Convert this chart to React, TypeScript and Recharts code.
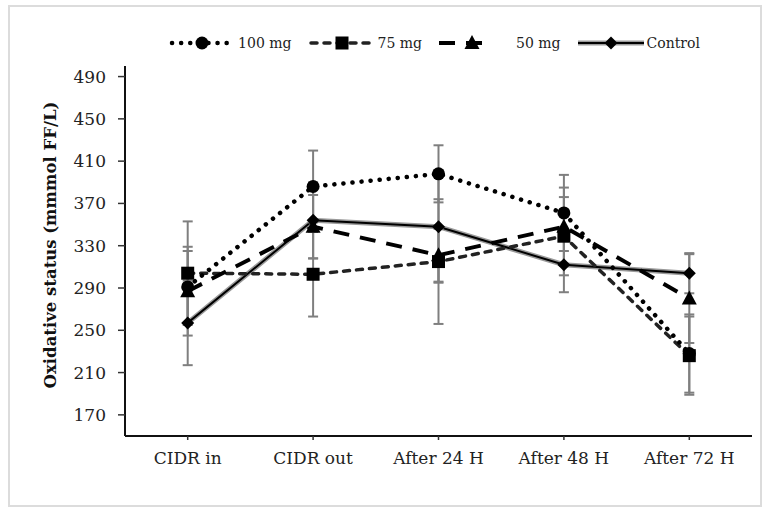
import React from 'react';
import { ComposedChart, Line, XAxis, YAxis, ErrorBar, Legend } from 'recharts';

const categories = ['CIDR in', 'CIDR out', 'After 24 H', 'After 48 H', 'After 72 H'];
const mg100 = [291, 386, 398, 361, 228];
const mg100Err = [34, 34, 27, 36, 37];
const mg75 = [304, 303, 315, 339, 226];
const mg75Err = [49, 40, 59, 37, 37];
const mg50 = [287, 348, 321, 348, 280];
const mg50Err = [42, 30, 25, 37, 42];
const control = [257, 354, 348, 312, 304];
const controlErr = [40, 36, 53, 26, 19];
const yTicks = [170, 210, 250, 290, 330, 370, 410, 450, 490];
const seriesNames = ['100 mg', '75 mg', '50 mg', 'Control'];

const data = categories.map((c, i) => ({
  name: c,
  mg100: mg100[i],
  mg100Err: mg100Err[i],
  mg75: mg75[i],
  mg75Err: mg75Err[i],
  mg50: mg50[i],
  mg50Err: mg50Err[i],
  control: control[i],
  controlErr: controlErr[i],
}));

const FONT = '"DejaVu Serif", serif';
const ERR = '#7f7f7f';

const CircleDot = (p: any) =>
  p.cx == null ? <g key={'c' + p.index} /> : <circle key={'c' + p.index} cx={p.cx} cy={p.cy} r={6.5} fill="#000" />;
const SquareDot = (p: any) =>
  p.cx == null ? <g key={'s' + p.index} /> : <rect key={'s' + p.index} x={p.cx - 6.5} y={p.cy - 6.5} width={13} height={13} fill="#000" />;
const TriangleDot = (p: any) =>
  p.cx == null ? <g key={'t' + p.index} /> : (
    <polygon key={'t' + p.index} points={`${p.cx},${p.cy - 8} ${p.cx + 7.5},${p.cy + 6} ${p.cx - 7.5},${p.cy + 6}`} fill="#000" />
  );
const DiamondDot = (p: any) =>
  p.cx == null ? <g key={'d' + p.index} /> : (
    <polygon key={'d' + p.index} points={`${p.cx},${p.cy - 6.5} ${p.cx + 6.5},${p.cy} ${p.cx},${p.cy + 6.5} ${p.cx - 6.5},${p.cy}`} fill="#000" />
  );

const icons = [
  (
    <svg width={66} height={20} key="i0">
      <line x1={3} y1={10} x2={64} y2={10} stroke="#000" strokeWidth={4.5} strokeDasharray="0.1 9" strokeLinecap="round" />
      <circle cx={33} cy={10} r={6.5} fill="#000" />
    </svg>
  ),
  (
    <svg width={66} height={20} key="i1">
      <line x1={2} y1={10} x2={64} y2={10} stroke="#222" strokeWidth={3.5} strokeDasharray="6 7" strokeLinecap="round" />
      <rect x={26.5} y={3.5} width={13} height={13} fill="#000" />
    </svg>
  ),
  (
    <svg width={74} height={20} key="i2">
      <line x1={0} y1={10} x2={52} y2={10} stroke="#000" strokeWidth={4} strokeDasharray="16 11" />
      <polygon points="33,2 40.5,16 25.5,16" fill="#000" />
    </svg>
  ),
  (
    <svg width={66} height={20} key="i3">
      <line x1={0} y1={10} x2={66} y2={10} stroke="#9a9a9a" strokeWidth={5} />
      <line x1={0} y1={10} x2={66} y2={10} stroke="#000" strokeWidth={2} />
      <polygon points="33,3.5 39.5,10 33,16.5 26.5,10" fill="#000" />
    </svg>
  ),
];

const LegendContent = () => (
  <div
    style={{
      display: 'flex',
      justifyContent: 'center',
      alignItems: 'center',
      gap: 17,
      height: 0,
      overflow: 'visible',
      fontFamily: FONT,
      fontSize: 14,
      color: '#222',
    }}
  >
    {seriesNames.map((n, i) => (
      <div key={n} style={{ display: 'flex', alignItems: 'center', gap: 3 }}>
        {icons[i]}
        <span>{n}</span>
      </div>
    ))}
  </div>
);

const YLabel = (props: any) => {
  const vb = props.viewBox || { x: 0, y: 66, width: 125, height: 370 };
  const cx = 50;
  const cy = vb.y + vb.height / 2 - 6;
  return (
    <text
      x={cx}
      y={cy}
      transform={`rotate(-90, ${cx}, ${cy})`}
      textAnchor="middle"
      dominantBaseline="central"
      fontFamily={FONT}
      fontWeight="bold"
      fontSize={16.5}
      fill="#111"
    >
      Oxidative status (mmmol FF/L)
    </text>
  );
};

export default function App() {
  return (
    <div style={{ position: 'absolute', left: 0, top: 0, width: 762, height: 512, background: '#fff' }}>
      <div
        style={{
          position: 'absolute',
          left: 8,
          top: 5,
          width: 754,
          height: 502,
          border: '2px solid #dcdcdc',
          boxSizing: 'border-box',
        }}
      />
      <div style={{ position: 'absolute', left: 0, top: 0 }}>
        <ComposedChart width={762} height={512} data={data} margin={{ top: 66, right: 10, bottom: 0, left: 0 }}>
          <XAxis
            dataKey="name"
            scale="band"
            height={76}
            interval={0}
            tickSize={4}
            tickMargin={12}
            axisLine={{ stroke: '#111', strokeWidth: 2 }}
            tickLine={{ stroke: '#333', strokeWidth: 1.5 }}
            tick={{ fill: '#222', fontSize: 17, fontFamily: FONT }}
          />
          <XAxis
            xAxisId="top"
            dataKey="name"
            scale="band"
            orientation="top"
            height={0}
            tick={false}
            tickLine={false}
            axisLine={{ stroke: '#111', strokeWidth: 2 }}
          />
          <YAxis
            width={125}
            domain={[150, 500]}
            ticks={yTicks}
            interval={0}
            tickSize={7}
            tickMargin={12}
            axisLine={{ stroke: '#111', strokeWidth: 2 }}
            tickLine={{ stroke: '#333', strokeWidth: 1.5 }}
            tick={{ fill: '#222', fontSize: 17, fontFamily: FONT }}
            label={{ content: (p: any) => <YLabel {...p} /> }}
          />
          <YAxis
            yAxisId="right"
            orientation="right"
            width={0}
            domain={[150, 500]}
            tick={false}
            tickLine={false}
            axisLine={{ stroke: '#111', strokeWidth: 2 }}
          />
          <Legend
            verticalAlign="top"
            content={() => <LegendContent />}
            wrapperStyle={{ top: 43, left: 116, width: 637, height: 0 }}
          />
          <Line
            dataKey="control"
            stroke="#9a9a9a"
            strokeWidth={5}
            dot={false}
            activeDot={false}
            legendType="none"
            isAnimationActive={false}
          >
            <ErrorBar dataKey="controlErr" direction="y" width={5} stroke={ERR} strokeWidth={2} />
          </Line>
          <Line
            dataKey="control"
            stroke="#000"
            strokeWidth={2}
            dot={DiamondDot}
            activeDot={false}
            isAnimationActive={false}
          />
          <Line
            dataKey="mg75"
            stroke="#222"
            strokeWidth={3.5}
            strokeDasharray="6 7"
            strokeLinecap="round"
            dot={SquareDot}
            activeDot={false}
            isAnimationActive={false}
          >
            <ErrorBar dataKey="mg75Err" direction="y" width={5} stroke={ERR} strokeWidth={2} />
          </Line>
          <Line
            dataKey="mg50"
            stroke="#000"
            strokeWidth={4}
            strokeDasharray="16 11"
            dot={TriangleDot}
            activeDot={false}
            isAnimationActive={false}
          >
            <ErrorBar dataKey="mg50Err" direction="y" width={5} stroke={ERR} strokeWidth={2} />
          </Line>
          <Line
            dataKey="mg100"
            stroke="#000"
            strokeWidth={4.5}
            strokeDasharray="0.1 9"
            strokeLinecap="round"
            dot={CircleDot}
            activeDot={false}
            isAnimationActive={false}
          >
            <ErrorBar dataKey="mg100Err" direction="y" width={5} stroke={ERR} strokeWidth={2} />
          </Line>
        </ComposedChart>
      </div>
    </div>
  );
}
